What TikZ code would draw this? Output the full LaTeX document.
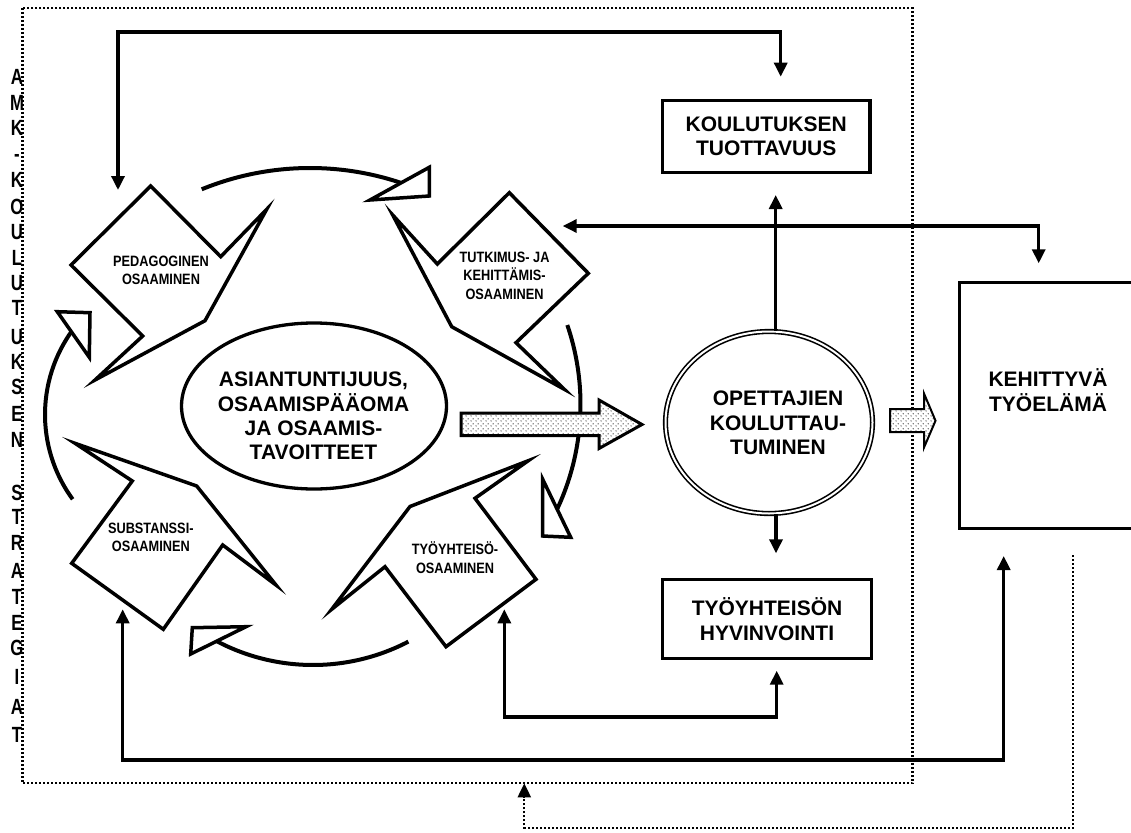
\documentclass[tikz,border=0pt]{standalone}
\usepackage{fontspec}
\setmainfont{Liberation Sans}
\newfontfamily\narrowsans{Liberation Sans Bold}[FakeStretch=0.85]
\newfontfamily\tallsans{Liberation Sans Bold}[FakeStretch=0.76]
\usetikzlibrary{arrows.meta,shapes.geometric,patterns}

% light stipple used inside the broad arrows
\pgfdeclarepatternformonly{stipple}{\pgfqpoint{0pt}{0pt}}{\pgfqpoint{5pt}{5pt}}{\pgfqpoint{5pt}{5pt}}{%
  \pgfpathcircle{\pgfqpoint{1.25pt}{1.25pt}}{0.7pt}%
  \pgfpathcircle{\pgfqpoint{3.75pt}{3.75pt}}{0.7pt}%
  \pgfusepath{fill}}

\begin{document}
\begin{tikzpicture}[x=1pt,y=-1pt,
  conn/.style={line width=3.3pt, line join=miter},
  tip/.style={-{Triangle[length=14pt,width=13pt]}},
  tips/.style={{Triangle[length=14pt,width=13pt]}-{Triangle[length=14pt,width=13pt]}},
  dotline/.style={line width=2.2pt, dash pattern=on 2pt off 2pt},
  callout/.style={draw, line width=3.5pt, fill=white, line join=miter},
  flag/.style={draw, line width=3.5pt, fill=white, line join=miter},
  cyclearc/.style={line width=4pt},
  bigtext/.style={font=\fontsize{21}{24.3}\selectfont\bfseries, align=center, inner sep=0pt},
  smalltext/.style={font=\narrowsans\fontsize{15}{18.4}\selectfont, align=center, inner sep=0pt},
  box/.style={draw, rectangle, line width=3.3pt, inner sep=0pt},
  hatcharrow/.style={draw, line join=miter, preaction={fill=white}, pattern=stipple, pattern color=black},
  sideletter/.style={font=\tallsans\fontsize{22}{22}\selectfont, anchor=base, inner sep=0pt}
]
\useasboundingbox (0,0) rectangle (1131,832);

% dotted frame: the strategy of the university of applied sciences
\draw[dotline] (22.5,8) rectangle (912.5,783.3);

% the cycle of competences: four arcs with open heads
\coordinate (topc) at (310,454);
\coordinate (rightc) at (334.5,404.5);
\coordinate (botc) at (313,458.5);
\coordinate (leftc) at (188.3,414.6);
\draw[cyclearc] ([shift={(-112.25:286)}]topc) arc[start angle=-112.25, end angle=-69, radius=286];
\draw[cyclearc] ([shift={(-18.85:246)}]rightc) arc[start angle=-18.85, end angle=27, radius=246];
\draw[cyclearc] ([shift={(62.5:206.5)}]botc) arc[start angle=62.5, end angle=120, radius=206.5];
\draw[cyclearc] ([shift={(143.8:143.3)}]leftc) arc[start angle=143.8, end angle=219, radius=143.3];

\draw[flag] (370,200) -- (429.3,167.3) -- (429.3,196) -- cycle;
\draw[flag] (542.7,479.3) -- (542.7,536) -- (570.7,537.3) -- cycle;
\draw[flag] (192.3,627.7) -- (246,626.7) -- (190.7,654) -- cycle;
\draw[flag] (57.3,311.7) -- (90,312.7) -- (89.3,357.3) -- cycle;

% competence callouts
\draw[callout] (150.7,186) -- (220.7,256.7) -- (266.7,209.3) -- (205,320.7) -- (95,380) -- (142.7,336) -- (71,265) -- cycle;
\draw[callout] (509.3,192.7) -- (588.3,273.3) -- (516,342.7) -- (564.3,389.3) -- (451.7,326.7) -- (392.7,215) -- (437.3,264) -- cycle;
\draw[callout] (410,506.5) -- (528.3,460.7) -- (475,498.3) -- (536,579.3) -- (446,646.7) -- (385,566.7) -- (331.7,609.3) -- cycle;
\draw[callout] (75,443.3) -- (196.7,486) -- (276,585) -- (222.7,545) -- (163.3,629.3) -- (71.7,563.3) -- (132.3,481) -- cycle;

\node[smalltext] (ped) at (161,270.5) {PEDAGOGINEN\\OSAAMINEN};
\node[smalltext] (tut) at (504.5,275.5) {TUTKIMUS- JA\\KEHITTÄMIS-\\OSAAMINEN};
\node[smalltext] (sub) at (150.8,537.5) {SUBSTANSSI-\\OSAAMINEN};
\node[smalltext] (tyoc) at (455,557.5) {TYÖYHTEISÖ-\\OSAAMINEN};

% core of the cycle
\node[draw, ellipse, line width=3.3pt, minimum width=265pt, minimum height=166pt, inner sep=0pt] (core) at (314,406) {};
\node[bigtext] (coretext) at (313.5,416) {ASIANTUNTIJUUS,\\OSAAMISPÄÄOMA\\JA OSAAMIS-\\TAVOITTEET};

% broad arrow towards teachers' training
\draw[hatcharrow, line width=3pt] (461,413) -- (599,413) -- (599,400) -- (642,424.5) -- (599,448.5) -- (599,435.5) -- (461,435.5) -- cycle;

% teachers' training
\node[draw, ellipse, double, line width=1.6pt, double distance=2pt, minimum width=207pt, minimum height=182pt, inner sep=0pt] (circ) at (769,422.5) {};
\node[bigtext] (circtext) at (778,423) {OPETTAJIEN\\KOULUTTAU-\\TUMINEN};

% outcome boxes
\node[box, bigtext, minimum width=207.7pt, minimum height=71.7pt] (koul) at (766.2,136.5) {KOULUTUKSEN\\TUOTTAVUUS};
\node[box, bigtext, minimum width=208.7pt, minimum height=78.7pt] (tyo) at (767,619) {TYÖYHTEISÖN\\HYVINVOINTI};
\node[box, minimum width=185.7pt, minimum height=245.7pt] (keh) at (1052,405.5) {};
\node[bigtext] (kehtext) at (1048,390) {KEHITTYVÄ\\TYÖELÄMÄ};

% small broad arrow towards working life
\draw[hatcharrow, line width=2pt] (890,409) -- (924,409) -- (924,393.5) -- (935.5,420.7) -- (924,447.5) -- (924,432) -- (890,432) -- cycle;

% connector end points
\coordinate (pedIn) at (118,190);
\coordinate (koulTop) at (780.7,76.7);
\coordinate (topRail) at (0,32);
\coordinate (tutIn) at (562.7,226);
\coordinate (kehIn) at (1038.7,263.3);
\coordinate (koulIn) at (775.7,195);
\coordinate (tyoIn) at (776,553.3);
\coordinate (tyocIn) at (504.3,609.3);
\coordinate (tyoBottom) at (776.7,670.7);
\coordinate (loopRail) at (0,717);
\coordinate (subIn) at (122.7,609.3);
\coordinate (kehBottom) at (1003.7,556);
\coordinate (bottomRail) at (0,760);
\coordinate (kehOut) at (1072.7,555);
\coordinate (frameIn) at (524.3,783.3);
\coordinate (dotRail) at (0,828);

% connectors
\draw[conn,tips] (pedIn) |- (koulTop |- topRail) -- (koulTop);
\draw[conn,tips] (tutIn) -| (kehIn);
\draw[conn,tip] (koulIn |- circ.north) -- (koulIn);
\draw[conn,tip] (tyoIn |- circ.south) -- (tyoIn);
\draw[conn,tips] (tyocIn) -- (tyocIn |- loopRail) -| (tyoBottom);
\draw[conn,tips] (subIn) -- (subIn |- bottomRail) -| (kehBottom);
\draw[dotline,tip] (kehOut) -- (kehOut |- dotRail) -| (frameIn);

% vertical caption along the frame
\foreach \ch/\yy [count=\i] in {A/77,M/103,K/128,-/154,K/180,O/207,U/232,L/258,U/283,T/308,U/337,K/362,S/387,E/414,N/440,S/493,T/517,R/543,A/571,T/597,E/623,G/648,I/677,A/707,T/735}
  \node[sideletter] (side\i) at (17,\yy+7.8) {\ch};
\end{tikzpicture}
\end{document}
